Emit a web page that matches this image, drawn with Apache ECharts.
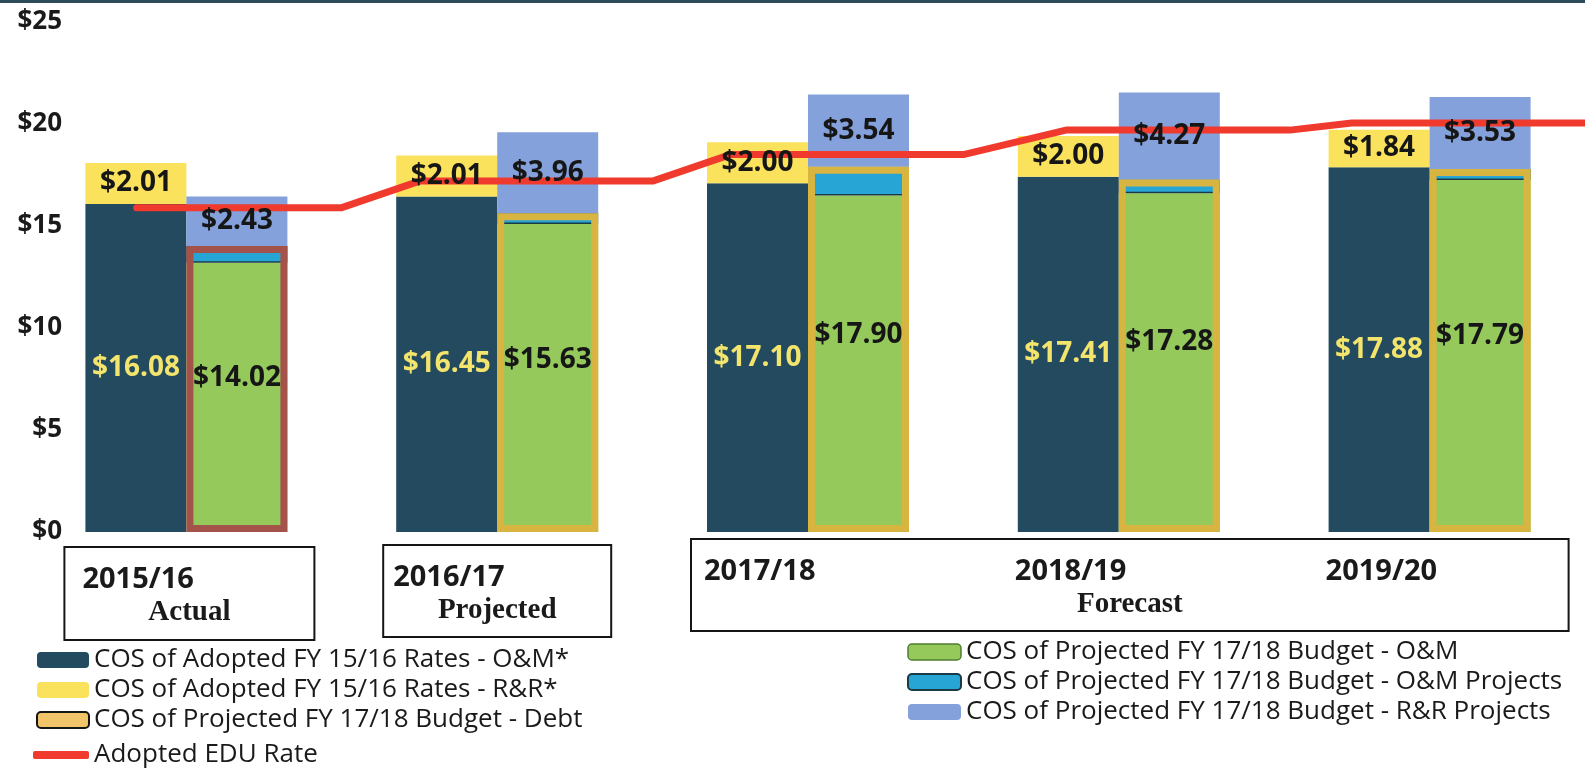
<!DOCTYPE html>
<html>
<head>
<meta charset="utf-8">
<script src="https://cdn.jsdelivr.net/npm/echarts@6/dist/echarts.min.js"></script>
<style>
  html, body { margin: 0; padding: 0; background: #ffffff; }
  #chart { width: 1585px; height: 770px; }
</style>
</head>
<body>
<div id="chart"></div>
<script>
// Fiscal years shown on the category axis
const categories = ['2015/16', '2016/17', '2017/18', '2018/19', '2019/20'];
const periodLabels = ['Actual', 'Projected', 'Forecast'];

// Cost of service under the adopted FY 15/16 rates
const adoptedOM = [16.08, 16.45, 17.10, 17.41, 17.88];
const adoptedRR = [2.01, 2.01, 2.00, 2.00, 1.84];

// Cost of service under the projected FY 17/18 budget
const budgetOM = [13.20, 15.10, 16.50, 16.60, 17.25];
const budgetOMProjects = [0.82, 0.53, 1.40, 0.68, 0.54];
const budgetWithDebt = [14.02, 15.63, 17.90, 17.28, 17.79];
const budgetRRProjects = [2.43, 3.96, 3.54, 4.27, 3.53];

// Adopted EDU rate over time (position in fiscal years from the start of 2015/16)
const eduRateYearPos = [0.34, 1.00, 1.25, 2.00, 2.25, 3.00, 3.33, 4.05, 4.25, 5.00];
const eduRate = [15.90, 15.90, 17.20, 17.20, 18.50, 18.50, 19.70, 19.70, 20.05, 20.05];

// Value-axis ticks
const yTicks = [0, 5, 10, 15, 20, 25];

const NAMES = {
  om: 'COS of Adopted FY 15/16 Rates - O&M*',
  rr: 'COS of Adopted FY 15/16 Rates - R&R*',
  debt: 'COS of Projected FY 17/18 Budget - Debt',
  rate: 'Adopted EDU Rate',
  bOM: 'COS of Projected FY 17/18 Budget - O&M',
  bOMP: 'COS of Projected FY 17/18 Budget - O&M Projects',
  bRRP: 'COS of Projected FY 17/18 Budget - R&R Projects'
};

const SANS = '"Open Sans", "Noto Sans", sans-serif';
const SERIF = '"Liberation Serif", "DejaVu Serif", serif';
const BAR_W = 101;
const RATE_RED = '#ef3a2d';
const money = p => '$' + Number(Array.isArray(p.value) ? p.value[1] : p.value).toFixed(2);

const labelDark = {
  show: true, position: 'inside', formatter: money,
  color: '#161616', fontFamily: SANS, fontWeight: 'bold', fontSize: 28
};

const chart = echarts.init(document.getElementById('chart'), null, { renderer: 'canvas' });

const legendText = { fontFamily: SANS, fontSize: 26, color: '#1a1a1a', lineHeight: 30 };

// The rate line is one polyline: above the bar rectangles, below the value labels
function renderRateLine(params, api) {
  if (params.dataIndex !== 0) return null;
  const points = eduRateYearPos.map((x, i) => api.coord([x, eduRate[i]]));
  return {
    type: 'polyline',
    z2: 1,
    shape: { points: points },
    style: { stroke: RATE_RED, lineWidth: 7, lineCap: 'round', lineJoin: 'round', fill: null },
    silent: true
  };
}

const option = {
  animation: false,
  backgroundColor: '#ffffff',
  grid: { left: 31, right: 0, top: 22, bottom: 238, containLabel: false, outerBoundsMode: 'none' },
  xAxis: [
    { type: 'category', data: categories, boundaryGap: true,
      axisLine: { show: false }, axisTick: { show: false }, axisLabel: { show: false }, splitLine: { show: false } },
    { type: 'category', data: categories, boundaryGap: true, show: false },
    { type: 'value', min: 0, max: categories.length, show: false }
  ],
  yAxis: {
    type: 'value',
    min: yTicks[0], max: yTicks[yTicks.length - 1], interval: yTicks[1] - yTicks[0],
    axisLine: { show: false }, axisTick: { show: false }, splitLine: { show: false },
    axisLabel: {
      formatter: v => '$' + v, margin: -31,
      fontFamily: SANS, fontWeight: 'bold', fontSize: 26, color: '#1a1a1a'
    }
  },
  legend: [
    {
      orient: 'vertical', left: 31, top: 640, itemWidth: 52, itemHeight: 16, itemGap: 0,
      selectedMode: false, textStyle: legendText,
      data: [
        NAMES.om, NAMES.rr,
        { name: NAMES.debt, itemStyle: { color: '#f2c46a', borderColor: '#141414', borderWidth: 2 } }
      ]
    },
    {
      orient: 'vertical', left: 28, top: 735, itemWidth: 56, itemHeight: 8, itemGap: 0,
      selectedMode: false, textStyle: legendText, icon: 'roundRect',
      data: [NAMES.rate]
    },
    {
      orient: 'vertical', left: 902, top: 632, itemWidth: 53, itemHeight: 16, itemGap: 0,
      selectedMode: false, textStyle: legendText,
      data: [
        { name: NAMES.bOM, itemStyle: { borderColor: '#4f7d2e', borderWidth: 1.5 } },
        NAMES.bOMP, NAMES.bRRP
      ]
    }
  ],
  series: [
    {
      name: NAMES.om, type: 'bar', stack: 'adopted', barWidth: BAR_W, barGap: '0%',
      data: adoptedOM, itemStyle: { color: '#234a5e' },
      label: Object.assign({}, labelDark, { color: '#f2e46c' })
    },
    {
      name: NAMES.rr, type: 'bar', stack: 'adopted', barWidth: BAR_W, barGap: '0%',
      data: adoptedRR, itemStyle: { color: '#fae25c' }, label: labelDark
    },
    {
      name: NAMES.bOM, type: 'bar', stack: 'budget', barWidth: BAR_W, barGap: '0%',
      data: budgetOM, itemStyle: { color: '#95c95c' }
    },
    {
      name: NAMES.bOMP, type: 'bar', stack: 'budget', barWidth: BAR_W, barGap: '0%',
      data: budgetOMProjects, itemStyle: { color: '#27a5d4', borderColor: '#1a3a46', borderWidth: 1.5 }
    },
    {
      name: NAMES.bRRP, type: 'bar', stack: 'budget', barWidth: BAR_W, barGap: '0%',
      data: budgetRRProjects, itemStyle: { color: '#84a1dc' }, label: labelDark
    },
    {
      // keeps the adopted-rates slot free on the overlay axis
      type: 'bar', xAxisIndex: 1, stack: 'slot', barWidth: BAR_W, barGap: '0%', silent: true,
      data: categories.map(() => '-'), itemStyle: { color: 'rgba(0,0,0,0)' }
    },
    {
      name: NAMES.debt, type: 'bar', xAxisIndex: 1, stack: 'outline', barWidth: BAR_W, barGap: '0%',
      data: budgetWithDebt.map((v, i) => i === 0 ? { value: v, itemStyle: { borderColor: '#a4534b' } } : v),
      itemStyle: { color: 'rgba(0,0,0,0)', borderColor: '#d8b440', borderWidth: 7 },
      label: Object.assign({}, labelDark, { position: ['50%', '46%'], align: 'center', verticalAlign: 'middle' })
    },
    {
      name: NAMES.rate, type: 'custom', xAxisIndex: 2, z: 2,
      data: eduRateYearPos.map((x, i) => [x, eduRate[i]]),
      encode: { x: 0, y: 1 },
      itemStyle: { color: RATE_RED },
      renderItem: renderRateLine
    }
  ]
};

chart.setOption(option);

// Period boxes under the axis, placed from the category positions
const cx = categories.map(c => chart.convertToPixel({ xAxisIndex: 0 }, c));
const boxes = [
  { x0: cx[0] - 122, x1: cx[0] + 128, top: 547, bottom: 640, cats: [0], period: periodLabels[0] },
  { x0: cx[1] - 114, x1: cx[1] + 114, top: 545, bottom: 637, cats: [1], period: periodLabels[1] },
  { x0: cx[2] - 117, x1: cx[4] + 139, top: 539, bottom: 631, cats: [2, 3, 4], period: periodLabels[2] }
];

const graphics = [
  { type: 'rect', left: 0, top: 0, shape: { width: 1585, height: 3 }, style: { fill: '#2b4c58' } }
];
boxes.forEach(b => {
  graphics.push({
    type: 'rect', shape: { x: b.x0, y: b.top, width: b.x1 - b.x0, height: b.bottom - b.top },
    style: { fill: '#ffffff', stroke: '#151515', lineWidth: 2 }, z: 1
  });
  b.cats.forEach(i => {
    graphics.push({
      type: 'text', x: cx[i] - BAR_W - 3, y: b.top + 33, z: 2,
      style: { text: categories[i], fill: '#1a1a1a', font: 'bold 29px ' + SANS, verticalAlign: 'middle', align: 'left' }
    });
  });
  graphics.push({
    type: 'text', x: (b.x0 + b.x1) / 2, y: b.top + 66, z: 2,
    style: { text: b.period, fill: '#1a1a1a', font: 'bold 29px ' + SERIF, verticalAlign: 'middle', align: 'center' }
  });
});

chart.setOption({ graphic: graphics });
</script>
</body>
</html>
